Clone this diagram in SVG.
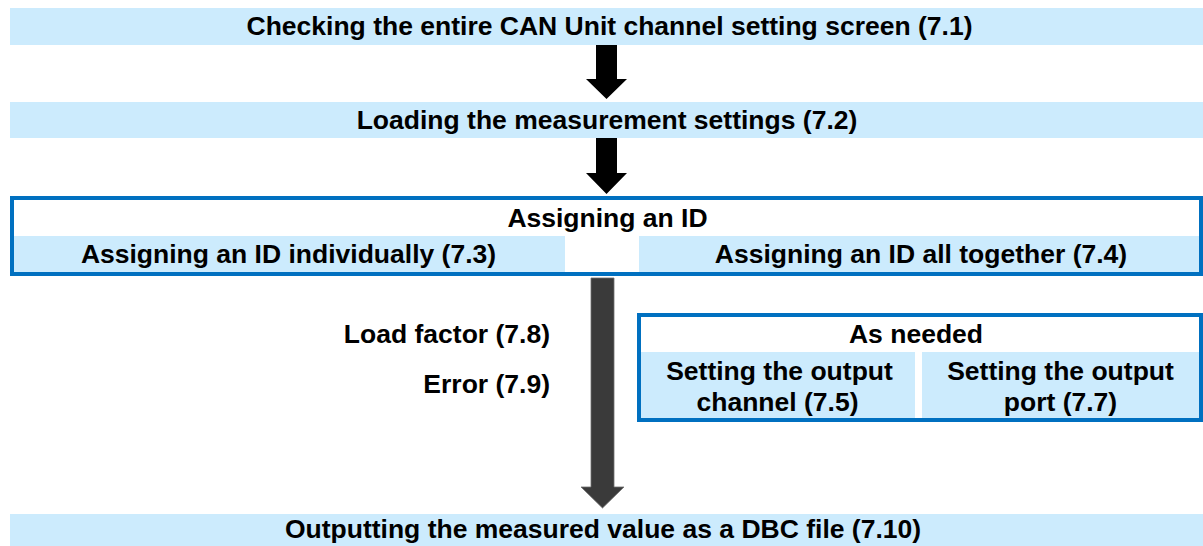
<svg xmlns="http://www.w3.org/2000/svg" width="1203" height="546" viewBox="0 0 1203 546">
<style>
.bar{fill:#CCEBFD;}
.frame{fill:#FFFFFF;stroke:#0070C0;stroke-width:4;}
.t{font-family:"Liberation Sans",Arial,sans-serif;font-weight:bold;font-size:26.5px;fill:#000;text-anchor:middle;}
.r{text-anchor:end;}
.arrow{fill:#000;}
.dark{fill:#3A3A3A;stroke:#6E6E6E;stroke-width:0.8;}
</style>
<rect width="1203" height="546" fill="#FFFFFF"/>
<g id="step1">
<rect class="bar" x="10" y="8" width="1193" height="37"/>
<text class="t" x="609.5" y="35">Checking the entire CAN Unit channel setting screen (7.1)</text>
</g>
<g id="step2">
<rect class="bar" x="10" y="102" width="1193" height="36"/>
<text class="t" x="607" y="129">Loading the measurement settings (7.2)</text>
</g>
<g id="assign-id">
<rect class="frame" x="12" y="198" width="1189" height="76"/>
<rect class="bar" x="14" y="236" width="551" height="36"/>
<rect class="bar" x="639" y="236" width="560" height="36"/>
<text class="t" x="607.5" y="227">Assigning an ID</text>
<text class="t" x="288.5" y="263">Assigning an ID individually (7.3)</text>
<text class="t" x="921" y="263">Assigning an ID all together (7.4)</text>
</g>
<g id="labels">
<text class="t r" x="550" y="343">Load factor (7.8)</text>
<text class="t r" x="550" y="393">Error (7.9)</text>
</g>
<g id="as-needed">
<rect class="frame" x="639" y="315" width="562" height="105"/>
<rect class="bar" x="641" y="352" width="274" height="66"/>
<rect class="bar" x="922" y="352" width="277" height="66"/>
<text class="t" x="916" y="343">As needed</text>
<text class="t" x="779.5" y="380">Setting the output</text>
<text class="t" x="777.5" y="411">channel (7.5)</text>
<text class="t" x="1060.5" y="380">Setting the output</text>
<text class="t" x="1060.5" y="411">port (7.7)</text>
</g>
<g id="step-output">
<rect class="bar" x="10" y="514" width="1193" height="32"/>
<text class="t" x="603" y="538">Outputting the measured value as a DBC file (7.10)</text>
</g>
<g id="connectors">
<polygon class="arrow" points="596,45 617,45 617,79 627,79 606.5,99 586,79 596,79"/>
<polygon class="arrow" points="596,138 617,138 617,173 627,173 606.5,194 586,173 596,173"/>
<polygon class="dark" points="591,278 614,278 614,487 624,487 602.5,508 581,487 591,487"/>
</g>
</svg>
